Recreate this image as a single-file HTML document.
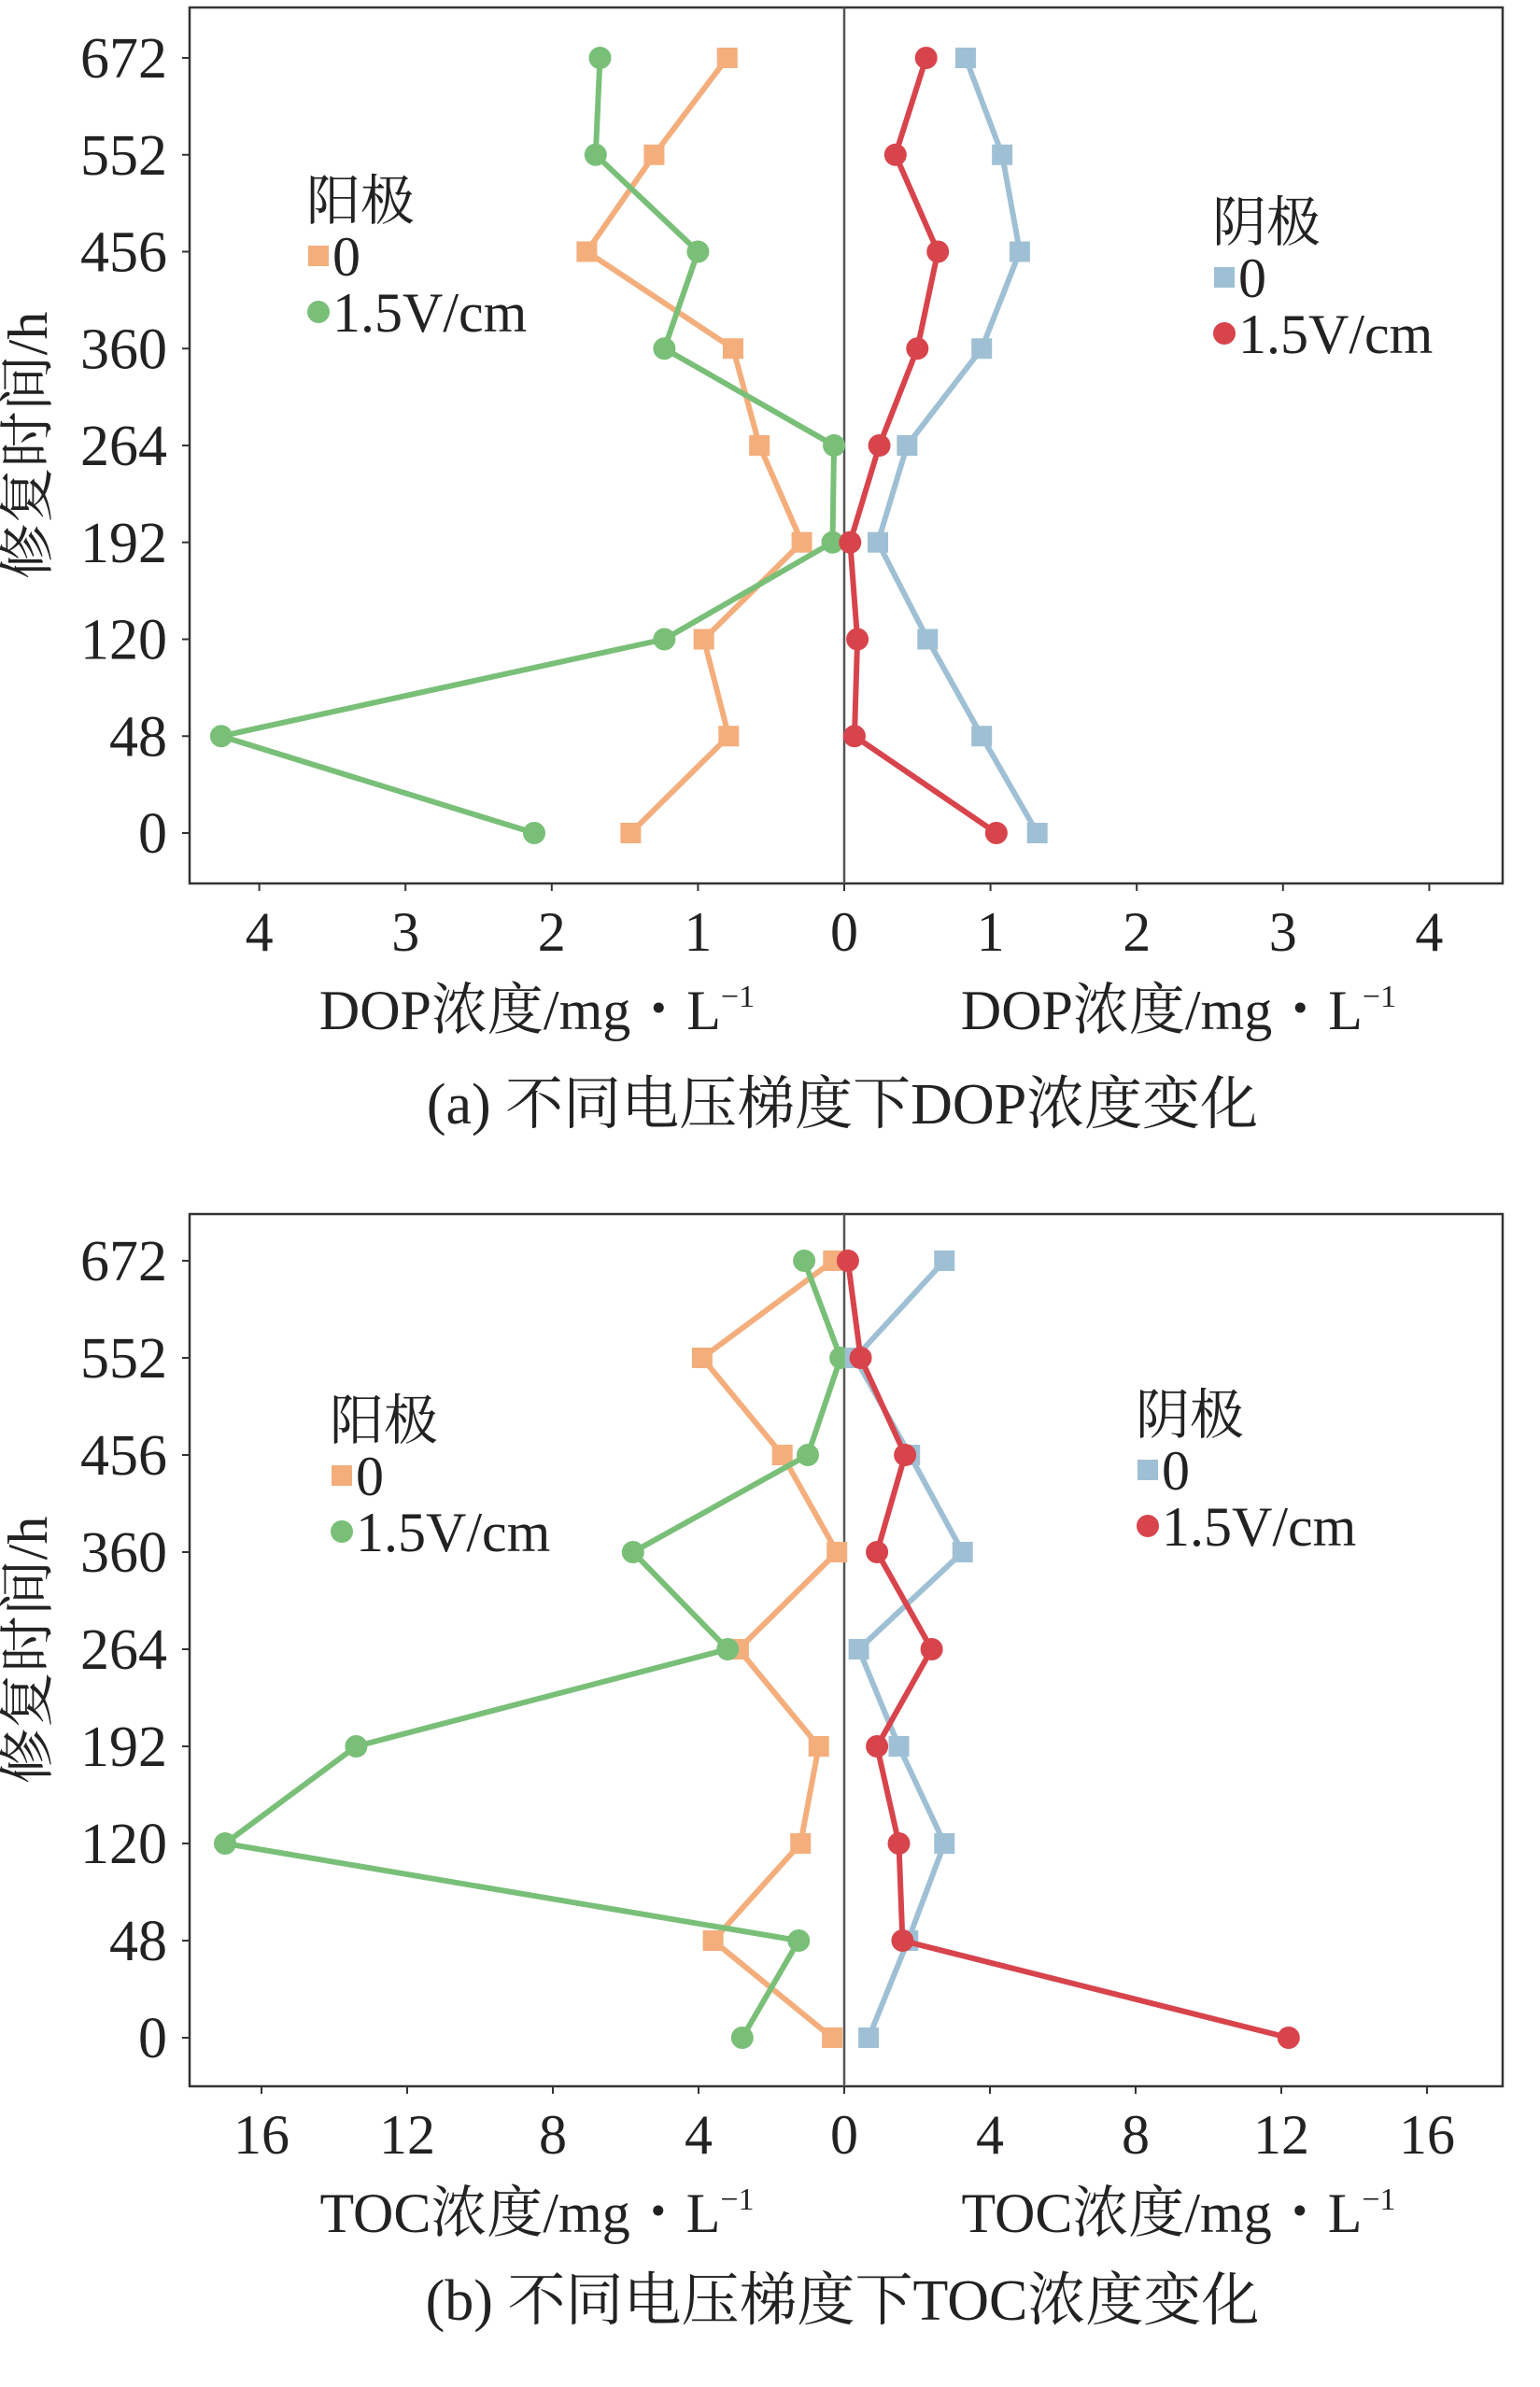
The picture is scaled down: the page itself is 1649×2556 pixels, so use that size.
<!DOCTYPE html>
<html><head><meta charset="utf-8"><style>
html,body{margin:0;padding:0;background:#fff;}
svg{display:block;font-family:"Liberation Serif","Noto Serif CJK SC",serif;}
</style></head><body>
<svg id="chart" width="1649" height="2556" viewBox="0 0 1649 2556" xmlns="http://www.w3.org/2000/svg"></svg>
<script>
const hours = [672, 552, 456, 360, 264, 192, 120, 48, 0];
const dopTicks = [4, 3, 2, 1, 0, 1, 2, 3, 4];
const tocTicks = [16, 12, 8, 4, 0, 4, 8, 12, 16];
const dopAnode0 = [0.8, 1.3, 1.76, 0.76, 0.58, 0.29, 0.96, 0.79, 1.46];
const dopAnode15 = [1.67, 1.7, 1.0, 1.23, 0.07, 0.08, 1.23, 4.26, 2.12];
const dopCathode0 = [0.83, 1.08, 1.2, 0.94, 0.43, 0.23, 0.57, 0.94, 1.32];
const dopCathode15 = [0.56, 0.35, 0.64, 0.5, 0.24, 0.04, 0.09, 0.07, 1.04];
const tocAnode0 = [0.3, 3.9, 1.7, 0.2, 2.9, 0.7, 1.2, 3.6, 0.33];
const tocAnode15 = [1.1, 0.1, 1.0, 5.8, 3.2, 13.4, 17.0, 1.25, 2.8];
const tocCathode0 = [2.75, 0.3, 1.8, 3.25, 0.4, 1.5, 2.75, 1.75, 0.67];
const tocCathode15 = [0.1, 0.45, 1.67, 0.9, 2.4, 0.9, 1.5, 1.6, 12.2];

const NS = "http://www.w3.org/2000/svg";
const svg = document.getElementById('chart');
const C = {orange:'#f4ae7c', green:'#79bf78', blue:'#9fc0d4', red:'#d8444c', axis:'#333'};
function mk(tag, attrs, parent){const e=document.createElementNS(NS,tag);for(const k in attrs)e.setAttribute(k,attrs[k]);(parent||svg).appendChild(e);return e;}

function panel(p){
  const g = mk('g',{});
  
  
  const L=203,R=1609,zero=904;
  const xS = v => zero + v*p.unit;
  const xA = v => zero - v*p.unit;
  const yS = i => p.y0 + i*(p.y1-p.y0)/(hours.length-1);
  const box = mk('rect',{x:L,y:p.top,width:R-L,height:p.bottom-p.top,fill:'none',stroke:C.axis,'stroke-width':2.5},g);
  
  
  const zl = mk('line',{x1:zero,x2:zero,y1:p.top,y2:p.bottom,stroke:'#555','stroke-width':2.5},g);
  
  
  hours.forEach((h,i)=>{
    mk('line',{x1:L-8,x2:L,y1:yS(i),y2:yS(i),stroke:C.axis,'stroke-width':2},g);
    const t=mk('text',{x:L-24,y:yS(i)+21,'text-anchor':'end','font-size':62,fill:'#222'},g);
    t.textContent=h;
    
    
  });
  p.ticks.forEach((tv,i)=>{
    const v = i<4 ? -tv : tv;
    const x = zero + v*p.unit;
    mk('line',{x1:x,x2:x,y1:p.bottom,y2:p.bottom+8,stroke:C.axis,'stroke-width':2},g);
    const t=mk('text',{x:x,y:p.bottom+72,'text-anchor':'middle','font-size':60,fill:'#222'},g);
    t.textContent=tv;
    
    
  });
  const yt=mk('text',{transform:`translate(50,${(p.top+p.bottom)/2}) rotate(-90)`,'text-anchor':'middle','font-size':60,fill:'#222'},g);
  yt.textContent='修复时间/h';
  
  
  [[575,'left-x-axis-title'],[1262,'right-x-axis-title']].forEach(([cx,n])=>{
    const t=mk('text',{x:cx,y:p.bottom+156,'text-anchor':'middle','font-size':60,fill:'#222'},g);
    t.innerHTML=p.xt+'浓度/mg・L<tspan dy="-24" font-size="34">−1</tspan>';
    
    
  });
  const cap=mk('text',{x:902,y:p.bottom+p.capdy,'text-anchor':'middle','font-size':62,fill:'#222'},g);
  cap.textContent=p.caption;
  
  
  function series(vals, fx, color, shape, name){
    const sg=mk('g',{},g);
    
    
    const pts=vals.map((v,i)=>fx(v)+','+yS(i)).join(' ');
    const pl=mk('polyline',{points:pts,fill:'none',stroke:color,'stroke-width':6,'stroke-linejoin':'round'},sg);
    
    
    vals.forEach((v,i)=>{
      let m;
      if(shape==='sq') m=mk('rect',{x:fx(v)-11,y:yS(i)-11,width:22,height:22,fill:color},sg);
      else m=mk('circle',{cx:fx(v),cy:yS(i),r:12,fill:color},sg);
      
      
    });
  }
  series(p.a0,xA,C.orange,'sq','anode-0-series');
  series(p.a15,xA,C.green,'ci','anode-1.5-series');
  series(p.c0,xS,C.blue,'sq','cathode-0-series');
  series(p.c15,xS,C.red,'ci','cathode-1.5-series');
  function legend(x,y,title,items,name){
    const lg=mk('g',{},g);
    
    
    const t=mk('text',{x:x,y:y,'font-size':58,fill:'#222'},lg);t.textContent=title;
    items.forEach((it,k)=>{
      const yy=y+p.lgap*(k+1);
      let m;
      if(it[1]==='sq') m=mk('rect',{x:x+2,y:yy-32,width:22,height:22,fill:it[0]},lg);
      else m=mk('circle',{cx:x+13,cy:yy-21,r:12,fill:it[0]},lg);
      
      
      const tt=mk('text',{x:x+28,y:yy,'font-size':60,fill:'#222'},lg);tt.textContent=it[2];
      
      
    });
  }
  legend(p.lax,p.lay,'阳极',[[C.orange,'sq','0'],[C.green,'ci','1.5V/cm']],'anode-legend');
  legend(p.lcx,p.lcy,'阴极',[[C.blue,'sq','0'],[C.red,'ci','1.5V/cm']],'cathode-legend');
}
panel({name:'dop-panel',top:8,bottom:946,y0:62,y1:892,unit:156.6,ticks:dopTicks,xt:'DOP',caption:'(a) 不同电压梯度下DOP浓度变化',capdy:257,
  a0:dopAnode0,a15:dopAnode15,c0:dopCathode0,c15:dopCathode15,lax:328,lay:235,lcx:1298,lcy:258,lgap:60});
panel({name:'toc-panel',top:1300,bottom:2234,y0:1350,y1:2182,unit:39,ticks:tocTicks,xt:'TOC',caption:'(b) 不同电压梯度下TOC浓度变化',capdy:250,
  a0:tocAnode0,a15:tocAnode15,c0:tocCathode0,c15:tocCathode15,lax:353,lay:1541,lcx:1216,lcy:1535,lgap:60});
</script>
</body></html>
